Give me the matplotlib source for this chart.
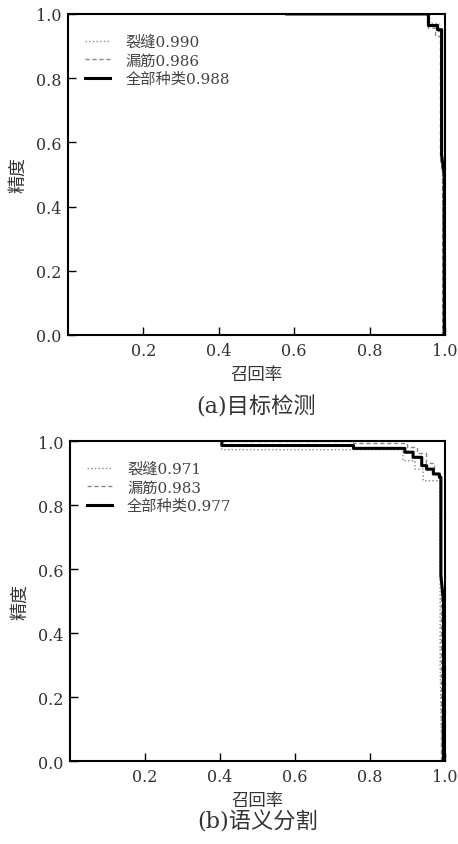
import matplotlib
matplotlib.use("Agg")
import matplotlib.pyplot as plt

plt.rcParams['font.family'] = ['DejaVu Serif', 'Noto Sans CJK SC']
plt.rcParams['axes.unicode_minus'] = False

# (a) 目标检测
det_all_r = [0.58, 0.956, 0.956, 0.980, 0.980, 0.991, 0.991, 0.998, 0.998]
det_all_p = [1.0, 1.0, 0.964, 0.964, 0.951, 0.951, 0.56, 0.50, 0.0]
det_crack_r = [0.58, 0.960, 0.960, 0.984, 0.984, 0.993, 0.993, 0.997]
det_crack_p = [1.0, 1.0, 0.970, 0.970, 0.945, 0.945, 0.52, 0.0]
det_rebar_r = [0.58, 0.956, 0.956, 0.975, 0.975, 0.988, 0.988, 0.994, 0.994]
det_rebar_p = [1.0, 1.0, 0.956, 0.956, 0.930, 0.930, 0.55, 0.50, 0.0]

# (b) 语义分割
seg_all_r = [0.405, 0.405, 0.756, 0.756, 0.893, 0.893, 0.915, 0.915, 0.938, 0.938,
             0.951, 0.951, 0.969, 0.969, 0.985, 0.985, 0.989, 0.989, 0.996, 0.996]
seg_all_p = [1.0, 0.986, 0.986, 0.977, 0.977, 0.965, 0.965, 0.949, 0.949, 0.923,
             0.923, 0.912, 0.912, 0.897, 0.897, 0.887, 0.887, 0.58, 0.50, 0.0]
seg_crack_r = [0.405, 0.405, 0.888, 0.888, 0.920, 0.920, 0.942, 0.942, 0.987, 0.987, 0.992]
seg_crack_p = [1.0, 0.973, 0.973, 0.938, 0.938, 0.912, 0.912, 0.876, 0.876, 0.30, 0.0]
seg_rebar_r = [0.405, 0.756, 0.756, 0.898, 0.898, 0.925, 0.925, 0.950, 0.950, 0.970,
               0.970, 0.985, 0.985, 0.989, 0.989]
seg_rebar_p = [1.0, 1.0, 0.993, 0.993, 0.982, 0.982, 0.962, 0.962, 0.930, 0.930,
               0.900, 0.900, 0.890, 0.890, 0.0]

det_labels = ['裂缝0.990', '漏筋0.986', '全部种类0.988']
seg_labels = ['裂缝0.971', '漏筋0.983', '全部种类0.977']
xticks = [0.2, 0.4, 0.6, 0.8, 1.0]
yticks = [0.0, 0.2, 0.4, 0.6, 0.8, 1.0]

text_color = '#333333'


def draw_panel(ax, crack, rebar, allc, labels, caption, cap_y):
    ax.plot(crack[0], crack[1], linestyle=':', color='#888888', lw=1.0, label=labels[0])
    ax.plot(rebar[0], rebar[1], linestyle='--', color='#888888', lw=1.0,
            dashes=(3, 2), label=labels[1])
    ax.plot(allc[0], allc[1], linestyle='-', color='black', lw=2.2, label=labels[2])
    ax.set_xlim(0, 1.0)
    ax.set_ylim(0, 1.0)
    ax.set_xticks(xticks)
    ax.set_yticks(yticks)
    ax.set_xticklabels(['%.1f' % v for v in xticks])
    ax.set_yticklabels(['%.1f' % v for v in yticks])
    ax.tick_params(direction='in', length=6, width=1.0, labelsize=11.5,
                   labelcolor=text_color, pad=5)
    for s in ax.spines.values():
        s.set_linewidth(1.5)
    ax.set_xlabel('召回率', fontsize=12.5, color=text_color, labelpad=5)
    ax.set_ylabel('精度', fontsize=13, color=text_color, labelpad=6)
    leg = ax.legend(loc='upper left', bbox_to_anchor=(0.03, 0.955), frameon=False,
                    fontsize=11, handlelength=1.6, handletextpad=1.0,
                    labelspacing=0.3, borderaxespad=0)
    for t in leg.get_texts():
        t.set_color('#444444')
    ax.text(0.5, cap_y, caption, transform=ax.transAxes, ha='center', va='center',
            fontsize=16, color=text_color)


fig = plt.figure(figsize=(4.58, 8.45), dpi=100)
ax1 = fig.add_axes([0.1485, 0.6024, 0.8231, 0.3799])
ax2 = fig.add_axes([0.1528, 0.0982, 0.8188, 0.3787])

draw_panel(ax1, (det_crack_r, det_crack_p), (det_rebar_r, det_rebar_p),
           (det_all_r, det_all_p), det_labels, '(a)目标检测', -0.222)
draw_panel(ax2, (seg_crack_r, seg_crack_p), (seg_rebar_r, seg_rebar_p),
           (seg_all_r, seg_all_p), seg_labels, '(b)语义分割', -0.19)

fig.savefig('out.png', dpi=100)
